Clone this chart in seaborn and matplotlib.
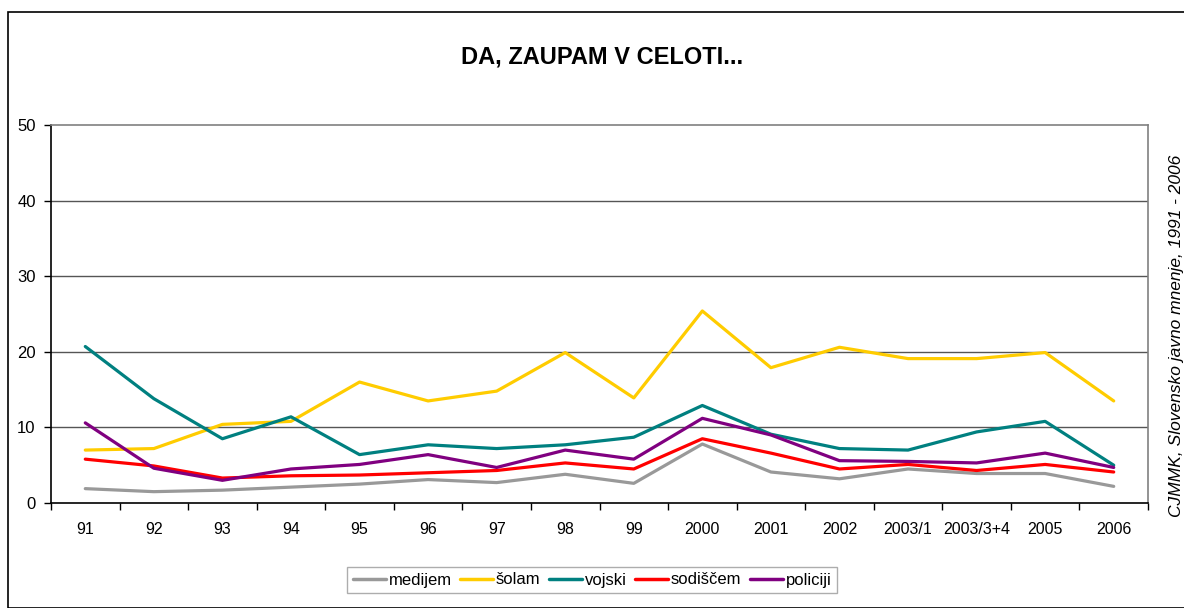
import matplotlib
matplotlib.use("Agg")
import matplotlib.pyplot as plt
import matplotlib.patches as mpatches
from matplotlib.ticker import FixedLocator, NullFormatter
import seaborn as sns
import pandas as pd

categories = ["91", "92", "93", "94", "95", "96", "97", "98", "99", "2000",
              "2001", "2002", "2003/1", "2003/3+4", "2005", "2006"]
medijem = [1.9, 1.5, 1.7, 2.1, 2.5, 3.1, 2.7, 3.8, 2.6, 7.8, 4.1, 3.2, 4.5, 3.9, 3.9, 2.2]
solam = [7.0, 7.2, 10.4, 10.8, 16.0, 13.5, 14.8, 19.9, 13.9, 25.4, 17.9, 20.6, 19.1, 19.1, 19.9, 13.5]
vojski = [20.7, 13.8, 8.5, 11.4, 6.4, 7.7, 7.2, 7.7, 8.7, 12.9, 9.1, 7.2, 7.0, 9.4, 10.8, 5.0]
sodiscem = [5.8, 4.9, 3.3, 3.6, 3.7, 4.0, 4.3, 5.3, 4.5, 8.5, 6.6, 4.5, 5.1, 4.3, 5.1, 4.1]
policiji = [10.6, 4.6, 3.0, 4.5, 5.1, 6.4, 4.7, 7.0, 5.8, 11.2, 9.0, 5.6, 5.5, 5.3, 6.6, 4.7]

series_names = ["medijem", "šolam", "vojski", "sodiščem", "policiji"]
series_values = [medijem, solam, vojski, sodiscem, policiji]
colors = ["#999999", "#FFCC00", "#008080", "#FF0000", "#800080"]
title = "DA, ZAUPAM V CELOTI..."
source = "CJMMK, Slovensko javno mnenje, 1991 - 2006"

rows = []
for name, vals in zip(series_names, series_values):
    for i, (c, v) in enumerate(zip(categories, vals)):
        rows.append({"pos": i, "cat": c, "serija": name, "vrednost": v})
df = pd.DataFrame(rows)

sns.set_theme(style="white")
plt.rcParams["font.family"] = ["Liberation Sans", "DejaVu Sans"]
plt.rcParams["text.color"] = "black"
plt.rcParams["xtick.color"] = "black"
plt.rcParams["ytick.color"] = "black"

fig = plt.figure(figsize=(11.84, 6.08), dpi=100)
ax = fig.add_axes([51/1184, 1-503/608, (1148-51)/1184, (503-125)/608])

sns.lineplot(data=df, x="pos", y="vrednost", hue="serija", hue_order=series_names,
             palette=dict(zip(series_names, colors)), linewidth=2.3, ax=ax,
             legend=False, sort=False)

ax.set_xlim(-0.5, len(categories) - 0.5)
ax.set_ylim(0, 50)
ax.set_yticks([0, 10, 20, 30, 40, 50])
ax.set_yticklabels(["0", "10", "20", "30", "40", "50"], fontsize=12)
ax.set_xticks(range(len(categories)))
ax.set_xticklabels(categories, fontsize=11.5)
ax.xaxis.set_minor_locator(FixedLocator([i - 0.5 for i in range(len(categories) + 1)]))
ax.xaxis.set_minor_formatter(NullFormatter())
ax.tick_params(axis="x", which="major", length=0, pad=14)
ax.tick_params(axis="x", which="minor", length=5, width=1, direction="out", color="black", bottom=True)
ax.tick_params(axis="y", which="major", length=5, width=1, direction="out", color="black", left=True, pad=6)
ax.set_xlabel("")
ax.set_ylabel("")

for y in [10, 20, 30, 40]:
    ax.axhline(y, color="#555555", linewidth=1.0, zorder=0)
for s in ["left", "bottom"]:
    ax.spines[s].set_color("black")
    ax.spines[s].set_linewidth(1.2)
for s in ["top", "right"]:
    ax.spines[s].set_color("#808080")
    ax.spines[s].set_linewidth(1.2)

fig.text(602/1184, 1-57/608, title, ha="center", va="center",
         fontsize=17, fontweight="bold", color="black")

fig.text(1177/1184, 1-155/608, source, rotation=90, ha="center", va="top",
         fontsize=12.5, fontstyle="italic", color="black")

handles = [plt.Line2D([0], [0], color=c, linewidth=2.5) for c in colors]
leg = fig.legend(handles, series_names, loc="center", bbox_to_anchor=(592/1184, 1-580/608),
                 ncol=5, frameon=True, fontsize=12, handlelength=2.0, handletextpad=0.15,
                 columnspacing=0.5, fancybox=False, borderpad=0.35, handleheight=0.5)
leg.get_frame().set_edgecolor("#999999")
leg.get_frame().set_linewidth(1.0)

border = mpatches.Rectangle((8/1184, 0), 1.2, 1-12/608, transform=fig.transFigure,
                            fill=False, edgecolor="black", linewidth=1.2)
fig.patches.append(border)

fig.savefig("out.png", dpi=100, facecolor="white")
